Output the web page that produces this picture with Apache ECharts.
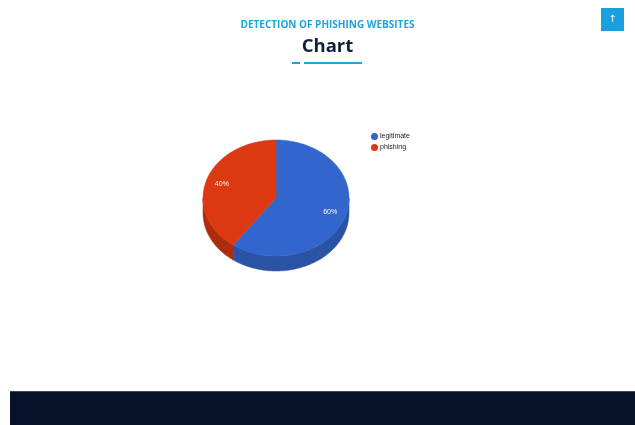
<!DOCTYPE html>
<html>
<head>
<meta charset="utf-8">
<script src="https://cdn.jsdelivr.net/npm/echarts@6/dist/echarts.min.js"></script>
<style>
html,body{margin:0;padding:0;background:#fff;}
#c{width:635px;height:425px;}
</style>
</head>
<body>
<div id="c"></div>
<script>
const categories = ['legitimate', 'phishing'];
const values = [60, 40];
const topColors = ['#3366cc', '#dc3912'];
const sideColors = ['#2a53a6', '#ad2c0e'];

const CX = 276, CY = 198, RX = 73, RY = 58, DEPTH = 15;
const total = values.reduce((a, b) => a + b, 0);

function pt(a, k, dy) {
  return [CX + RX * k * Math.sin(a), CY - RY * k * Math.cos(a) + (dy || 0)];
}
function arcPts(a1, a2, dy) {
  const pts = [];
  const n = Math.max(8, Math.ceil((a2 - a1) / 0.02));
  for (let i = 0; i <= n; i++) pts.push(pt(a1 + (a2 - a1) * i / n, 1, dy));
  return pts;
}

function makeRender(idx) {
  return function (params, api) {
    let before = 0;
    for (let i = 0; i < idx; i++) before += values[i];
    const v = api.value(0);
    const a1 = before / total * Math.PI * 2;
    const a2 = (before + v) / total * Math.PI * 2;
    const children = [];
    const s1 = Math.max(a1, Math.PI / 2), s2 = Math.min(a2, Math.PI * 1.5);
    if (s2 > s1) {
      const top = arcPts(s1, s2, 0);
      const bot = arcPts(s1, s2, DEPTH).reverse();
      children.push({
        type: 'polygon', z2: 1,
        shape: { points: top.concat(bot) },
        style: { fill: sideColors[idx], stroke: sideColors[idx], lineWidth: 0.5 }
      });
    }
    const face = [[CX, CY]].concat(arcPts(a1, a2, 0));
    children.push({
      type: 'polygon', z2: 2,
      shape: { points: face },
      style: { fill: topColors[idx], stroke: topColors[idx], lineWidth: 0.5 }
    });
    const mid = (a1 + a2) / 2;
    const lp = pt(mid, 0.78, 0);
    children.push({
      type: 'text', z2: 3,
      x: lp[0], y: lp[1],
      style: {
        text: Math.round(v / total * 100) + '%',
        fill: '#ffffff', font: '7px Arial, "Liberation Sans", sans-serif',
        align: 'center', verticalAlign: 'middle'
      }
    });
    return { type: 'group', children: children };
  };
}

const chart = echarts.init(document.getElementById('c'), null, { renderer: 'canvas' });
chart.setOption({
  animation: false,
  backgroundColor: '#ffffff',
  legend: {
    orient: 'vertical',
    left: 366, top: 128,
    itemWidth: 7, itemHeight: 7, itemGap: 4,
    icon: 'circle',
    data: categories,
    textStyle: { fontSize: 7, color: '#222222', fontFamily: 'Arial, "Liberation Sans", sans-serif', padding: [0, 0, 0, -3] }
  },
  series: categories.map((name, i) => ({
    type: 'custom',
    name: name,
    coordinateSystem: 'none',
    color: topColors[i],
    itemStyle: { color: topColors[i] },
    renderItem: makeRender(i),
    data: [[values[i]]],
    silent: true
  })),
  graphic: [
    { type: 'text', x: 327.5, y: 25.5, style: { text: 'DETECTION OF PHISHING WEBSITES', fill: '#1fa3dc', font: 'bold 10px "Open Sans", sans-serif', align: 'center', verticalAlign: 'middle' } },
    { type: 'text', x: 327.5, y: 46.5, style: { text: 'Chart', fill: '#0f1f3d', font: 'bold 18.5px "Open Sans", sans-serif', align: 'center', verticalAlign: 'middle' } },
    { type: 'rect', shape: { x: 292, y: 62, width: 8, height: 2 }, style: { fill: '#1fa3dc' } },
    { type: 'rect', shape: { x: 304, y: 62, width: 58, height: 2 }, style: { fill: '#1fa3dc' } },
    { type: 'rect', shape: { x: 601, y: 8, width: 23, height: 23 }, style: { fill: '#1a9fe0' } },
    { type: 'text', x: 612.5, y: 19.5, style: { text: '↑', fill: '#fff', font: '10px "DejaVu Sans"', align: 'center', verticalAlign: 'middle' } },
    { type: 'rect', shape: { x: 10, y: 391, width: 625, height: 34 }, style: { fill: '#06132a' } },
    { type: 'rect', shape: { x: 10, y: 391, width: 625, height: 1 }, style: { fill: '#3c4a5c' } }
  ]
});
</script>
</body>
</html>
